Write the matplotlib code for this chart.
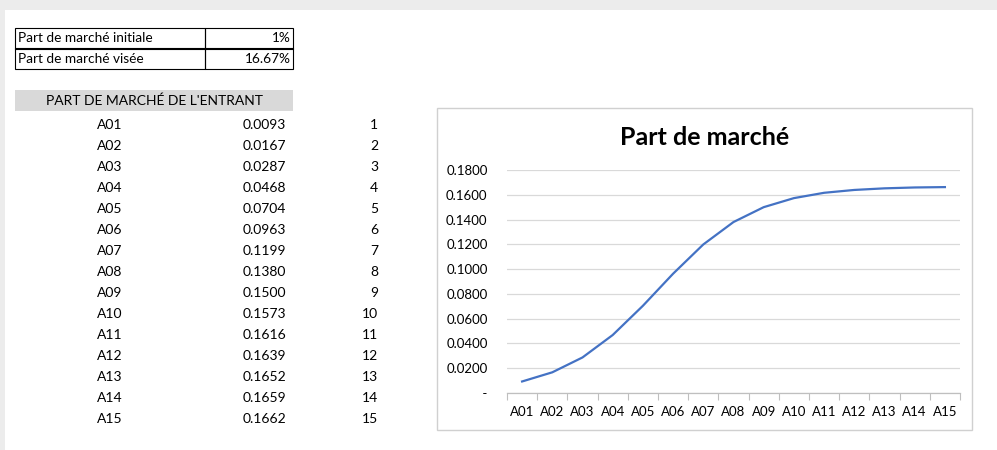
import numpy as np
import matplotlib.pyplot as plt
from matplotlib.patches import Rectangle
from matplotlib.ticker import FuncFormatter

plt.rcParams['font.family'] = ['Lato', 'DejaVu Sans']

W, H = 997, 450

periods = ['A01', 'A02', 'A03', 'A04', 'A05', 'A06', 'A07', 'A08',
           'A09', 'A10', 'A11', 'A12', 'A13', 'A14', 'A15']
share = [0.0093, 0.0167, 0.0287, 0.0468, 0.0704, 0.0963, 0.1199, 0.1380,
         0.1500, 0.1573, 0.1616, 0.1639, 0.1652, 0.1659, 0.1662]
index = list(range(1, 16))
params = ['Part de marché initiale', 'Part de marché visée']
param_vals = ['1%', '16.67%']


def fx(x):
    return x / W


def fy(y):
    return 1 - y / H


fig = plt.figure(figsize=(W / 100, H / 100), dpi=100)
fig.patch.set_facecolor('white')

# sheet background strips
fig.patches.append(Rectangle((0, fy(10)), 1, 10 / H, transform=fig.transFigure,
                             facecolor='#ececec', edgecolor='none'))
fig.patches.append(Rectangle((0, 0), fx(5), fy(10), transform=fig.transFigure,
                             facecolor='#ececec', edgecolor='none'))

# small parameter table
for i, (name, val) in enumerate(zip(params, param_vals)):
    top = 28 + i * 20.5
    fig.patches.append(Rectangle((fx(15), fy(top + 20.5)), fx(190), 20.5 / H,
                                 transform=fig.transFigure, facecolor='none',
                                 edgecolor='black', lw=0.8))
    fig.patches.append(Rectangle((fx(205), fy(top + 20.5)), fx(88), 20.5 / H,
                                 transform=fig.transFigure, facecolor='none',
                                 edgecolor='black', lw=0.8))
    fig.text(fx(18), fy(top + 10.5), name, fontsize=9.8, va='center', ha='left')
    fig.text(fx(291), fy(top + 10.5), val, fontsize=9.8, va='center', ha='right')

# header band
fig.patches.append(Rectangle((fx(15), fy(111)), fx(278), 21 / H,
                             transform=fig.transFigure, facecolor='#d9d9d9',
                             edgecolor='none'))
fig.text(fx(154), fy(101), "PART DE MARCHÉ DE L'ENTRANT", fontsize=10,
         va='center', ha='center')

for i, (p, v, n) in enumerate(zip(periods, share, index)):
    y = fy(125 + i * 21)
    fig.text(fx(110), y, p, fontsize=10, va='center', ha='center')
    fig.text(fx(286), y, f'{v:.4f}', fontsize=10, va='center', ha='right')
    fig.text(fx(378), y, str(n), fontsize=10, va='center', ha='right')

# chart frame
fig.patches.append(Rectangle((fx(437), fy(430)), fx(535), 322 / H,
                             transform=fig.transFigure, facecolor='none',
                             edgecolor='#d0d0d0', lw=1))

ax = fig.add_axes([fx(507), fy(393), fx(453), (393 - 170) / H])
x = np.arange(len(periods))
ax.plot(x, share, color='#4472c4', lw=1.6)
ax.set_xlim(-0.5, len(periods) - 0.5)
ax.set_ylim(0, 0.18)
ax.set_yticks(np.arange(0, 0.1801, 0.02))
ax.yaxis.set_major_formatter(FuncFormatter(lambda v, _: ' -' if abs(v) < 1e-9 else f'{v:.4f}'))
ax.set_xticks(x)
ax.set_xticklabels(periods)
ax.set_xticks(np.arange(-0.5, len(periods)), minor=True)
ax.tick_params(axis='x', which='major', length=0, pad=9, labelsize=9.5)
ax.tick_params(axis='x', which='minor', length=5, color='#bfbfbf', width=0.8)
ax.tick_params(axis='y', length=0, pad=14, labelsize=9.5)
ax.grid(axis='y', color='#d9d9d9', lw=0.9)
ax.set_axisbelow(True)
for s in ['top', 'right', 'left']:
    ax.spines[s].set_visible(False)
ax.spines['bottom'].set_color('#bfbfbf')
ax.spines['bottom'].set_linewidth(0.9)

fig.text(fx(705), fy(137), 'Part de marché', fontsize=18, fontweight='bold',
         ha='center', va='center')

fig.savefig('out.png', dpi=100)
